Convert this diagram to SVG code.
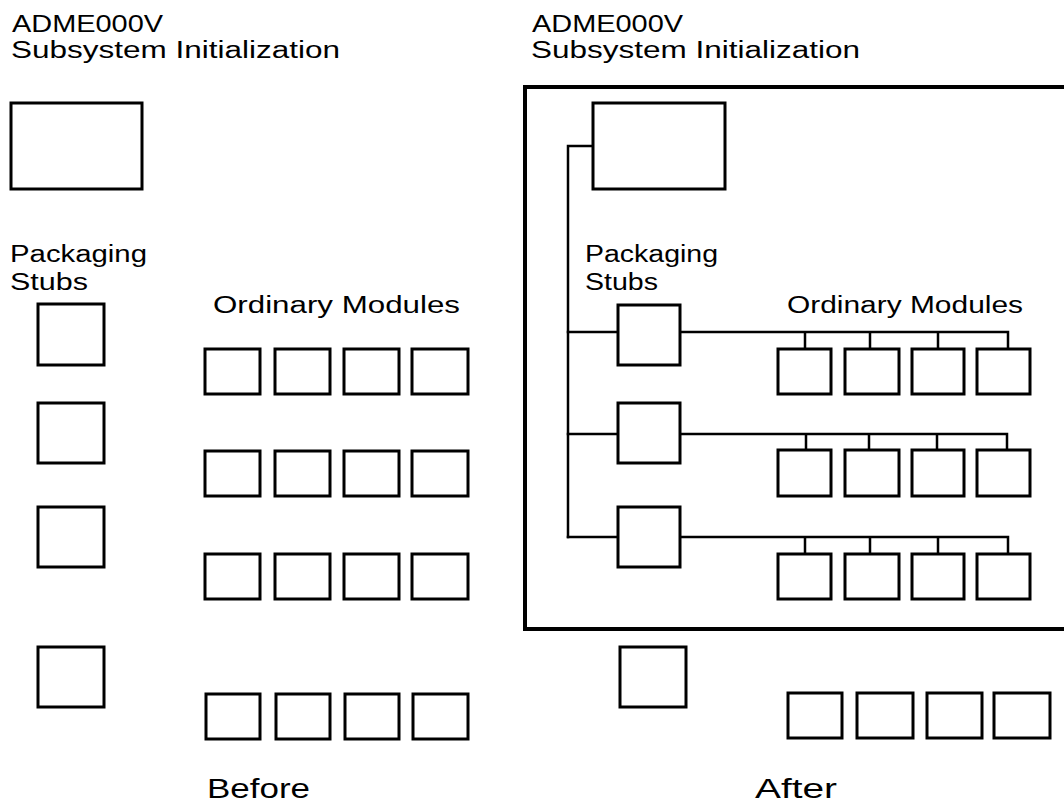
<svg xmlns="http://www.w3.org/2000/svg" width="1064" height="804" viewBox="0 0 1064 804">
<style>
  .bx { fill: #fff; stroke: #000; stroke-width: 3; }
  .frame { fill: none; stroke: #000; stroke-width: 4; }
  .ln { fill: none; stroke: #000; stroke-width: 2.5; stroke-linecap: square; }
  .t { font-family: "Liberation Sans", Arial, sans-serif; font-size: 23px; fill: #000; }
  .big { font-size: 27px; }
</style>
<rect width="1064" height="804" fill="#fff"/>

<!-- BEFORE -->
<g id="before-labels">
  <text class="t" x="12" y="32" textLength="151" lengthAdjust="spacingAndGlyphs">ADME000V</text>
  <text class="t" x="11" y="58" textLength="329" lengthAdjust="spacingAndGlyphs">Subsystem Initialization</text>
  <text class="t" x="10" y="262" textLength="137" lengthAdjust="spacingAndGlyphs">Packaging</text>
  <text class="t" x="10" y="290" textLength="78" lengthAdjust="spacingAndGlyphs">Stubs</text>
  <text class="t" x="213" y="313" textLength="247" lengthAdjust="spacingAndGlyphs">Ordinary Modules</text>
  <text class="t big" x="207" y="798" textLength="103" lengthAdjust="spacingAndGlyphs">Before</text>
</g>
<g id="b-init"><rect class="bx" x="11" y="103" width="131" height="86"/></g>
<g id="b-stub1"><rect class="bx" x="38" y="304" width="66" height="61"/></g>
<g id="b-stub2"><rect class="bx" x="38" y="403" width="66" height="60"/></g>
<g id="b-stub3"><rect class="bx" x="38" y="507" width="66" height="60"/></g>
<g id="b-stub4"><rect class="bx" x="38" y="647" width="66" height="60"/></g>
<g id="b-mod-r1">
  <rect class="bx" x="205" y="349" width="55" height="45"/>
  <rect class="bx" x="275" y="349" width="55" height="45"/>
  <rect class="bx" x="344" y="349" width="55" height="45"/>
  <rect class="bx" x="412" y="349" width="56" height="45"/>
</g>
<g id="b-mod-r2">
  <rect class="bx" x="205" y="451" width="55" height="45"/>
  <rect class="bx" x="275" y="451" width="55" height="45"/>
  <rect class="bx" x="344" y="451" width="55" height="45"/>
  <rect class="bx" x="412" y="451" width="56" height="45"/>
</g>
<g id="b-mod-r3">
  <rect class="bx" x="205" y="554" width="55" height="45"/>
  <rect class="bx" x="275" y="554" width="55" height="45"/>
  <rect class="bx" x="344" y="554" width="55" height="45"/>
  <rect class="bx" x="412" y="554" width="56" height="45"/>
</g>
<g id="b-mod-r4">
  <rect class="bx" x="206" y="694" width="54" height="45"/>
  <rect class="bx" x="276" y="694" width="54" height="45"/>
  <rect class="bx" x="345" y="694" width="54" height="45"/>
  <rect class="bx" x="413" y="694" width="55" height="45"/>
</g>

<!-- AFTER -->
<g id="after-labels">
  <text class="t" x="532" y="32" textLength="151" lengthAdjust="spacingAndGlyphs">ADME000V</text>
  <text class="t" x="531" y="58" textLength="329" lengthAdjust="spacingAndGlyphs">Subsystem Initialization</text>
  <text class="t" x="585" y="262" textLength="133" lengthAdjust="spacingAndGlyphs">Packaging</text>
  <text class="t" x="585" y="290" textLength="73" lengthAdjust="spacingAndGlyphs">Stubs</text>
  <text class="t" x="787" y="313" textLength="236" lengthAdjust="spacingAndGlyphs">Ordinary Modules</text>
  <text class="t big" x="755" y="798" textLength="82" lengthAdjust="spacingAndGlyphs">After</text>
</g>
<g id="a-frame"><rect class="frame" x="525" y="87" width="560" height="542"/></g>

<g id="connectors">
  <path class="ln" d="M593 146 H568 V537"/>
  <path class="ln" d="M568 332 H618 M680 332 H1008 M805 332 V349 M870 332 V349 M938 332 V349 M1008 332 V349"/>
  <path class="ln" d="M568 434 H618 M680 434 H1007 M806 434 V450 M869 434 V450 M937 434 V450 M1007 434 V450"/>
  <path class="ln" d="M568 537 H618 M680 537 H1008 M805 537 V554 M870 537 V554 M938 537 V554 M1008 537 V554"/>
</g>

<g id="a-init"><rect class="bx" x="593" y="103" width="132" height="86"/></g>
<g id="a-stub1"><rect class="bx" x="618" y="305" width="62" height="60"/></g>
<g id="a-stub2"><rect class="bx" x="618" y="403" width="62" height="60"/></g>
<g id="a-stub3"><rect class="bx" x="618" y="507" width="62" height="60"/></g>
<g id="a-stub4"><rect class="bx" x="620" y="647" width="66" height="60"/></g>
<g id="a-mod-r1">
  <rect class="bx" x="778" y="349" width="53" height="45"/>
  <rect class="bx" x="845" y="349" width="54" height="45"/>
  <rect class="bx" x="912" y="349" width="52" height="45"/>
  <rect class="bx" x="977" y="349" width="53" height="45"/>
</g>
<g id="a-mod-r2">
  <rect class="bx" x="778" y="450" width="53" height="46"/>
  <rect class="bx" x="845" y="450" width="54" height="46"/>
  <rect class="bx" x="912" y="450" width="52" height="46"/>
  <rect class="bx" x="977" y="450" width="53" height="46"/>
</g>
<g id="a-mod-r3">
  <rect class="bx" x="778" y="554" width="53" height="45"/>
  <rect class="bx" x="845" y="554" width="54" height="45"/>
  <rect class="bx" x="912" y="554" width="52" height="45"/>
  <rect class="bx" x="977" y="554" width="53" height="45"/>
</g>
<g id="a-mod-r4">
  <rect class="bx" x="788" y="693" width="54" height="45"/>
  <rect class="bx" x="857" y="693" width="56" height="45"/>
  <rect class="bx" x="927" y="693" width="55" height="45"/>
  <rect class="bx" x="994" y="693" width="56" height="45"/>
</g>
</svg>
